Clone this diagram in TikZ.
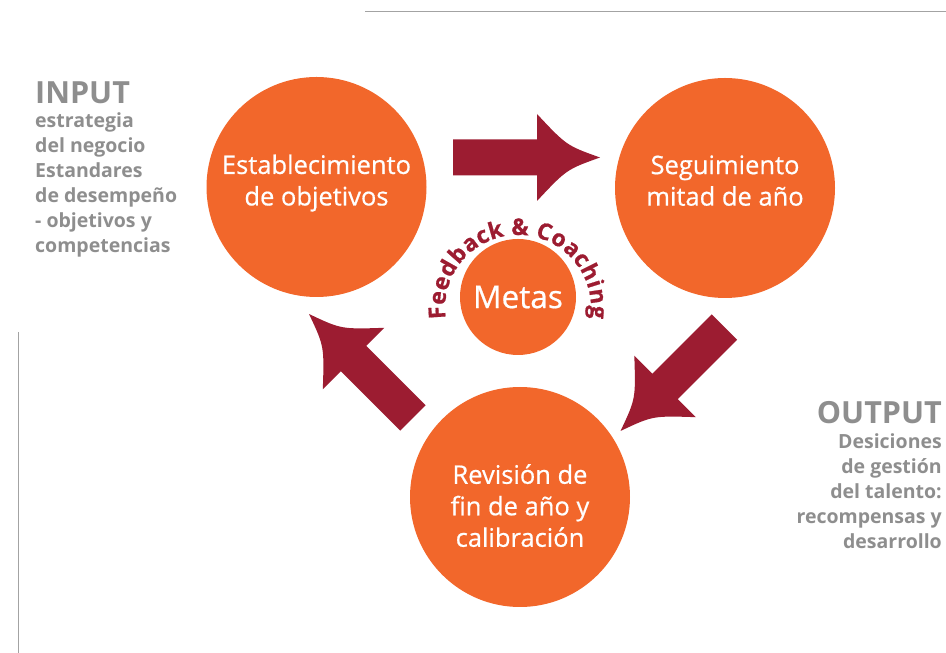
\documentclass[tikz,border=0pt]{standalone}
\usepackage{fontspec}
\setmainfont{Open Sans}
\newfontfamily\stagefont{Open Sans}[FakeBold=0.6]
\newfontfamily\arcfamily{Open Sans}[BoldFeatures={FakeBold=0.8}]
\usetikzlibrary{positioning}
\usetikzlibrary{matrix}

\definecolor{stageorange}{HTML}{F2672B}
\definecolor{arrowred}{HTML}{9C1C31}
\definecolor{notegray}{HTML}{8E8E8E}
\definecolor{rulegray}{HTML}{A3A3A3}

\tikzset{
  stage/.style={circle, fill=stageorange, minimum size=220pt, inner sep=0pt},
  stagetext/.style={text=white, align=center, text depth=6pt, inner sep=0pt,
    font=\stagefont\fontsize{25.5}{31.5}\selectfont},
  arcletter/.style={text=arrowred, inner sep=0pt, anchor=base,
    font=\arcfamily\bfseries\fontsize{23}{23}\selectfont},
  note/.style={text=notegray, inner sep=0pt, font=\bfseries\fontsize{19.5}{25}\selectfont},
  notehead/.style={note, font=\bfseries\fontsize{30.5}{30.5}\selectfont},
  bigarrow/.pic={
    \fill[arrowred] (-73.5,-18) -- (10.5,-18) -- (10.5,-43.5)
      .. controls (40,-12) .. (73.5,0)
      .. controls (40,12) .. (10.5,43.5) -- (10.5,18) -- (-73.5,18) -- cycle;
  }
}

\begin{document}
\begin{tikzpicture}[x=1pt,y=1pt]
\useasboundingbox (0,0) rectangle (946,653);

% the review cycle
\node[stage] (estab) at (316.5,466) {};
\node[stage] (seguim) at (725,465) {};
\node[stage] (revis) at (520,156) {};
\node[stage, minimum size=116pt, text=white, font=\stagefont\fontsize{31.5}{31.5}\selectfont] (metas) at (518,356) {Metas};

\node[stagetext] (estab-txt) at ([yshift=4pt]estab) {Establecimiento\\de objetivos};
\node[stagetext] (seguim-txt) at ([yshift=4.5pt]seguim) {Seguimiento\\mitad de a\~no};
\node[stagetext] (revis-txt) at ([yshift=-11.5pt]revis) {Revisi\'on de\\fin de a\~no y\\calibraci\'on};

\pic at (526.5,495.5) {bigarrow};
\pic[rotate=-135] at (672.5,274) {bigarrow};
\pic[rotate=135] at (361,287) {bigarrow};

% text round the goals, letter by letter
\coordinate (arcmid) at ([yshift=-11pt]metas);
\foreach \ch/\ang [count=\i] in {F/183.34, e/172.74, e/161.93, d/150.49, b/138.41,
    a/126.71, c/116.44, k/106.15, \&/88.57, C/70.91, o/59.22, a/47.61, c/37.33,
    h/26.50, i/17.47, n/8.44, g/-3.15}
  \node[arcletter, rotate=\ang-90] (fb\i) at ([shift={(\ang:73)}]arcmid) {\ch};

% input / output notes
\matrix (inlist) [matrix of nodes, nodes={note, anchor=base west},
  row sep={25pt,between origins}, inner sep=0pt, anchor=north west] at (35,571) {
|[notehead]| INPUT \\[-1pt]
estrategia \\
del negocio \\
Estandares \\
de desempe\~no \\
- objetivos y \\
competencias \\
};

\matrix (outlist) [matrix of nodes, nodes={note, anchor=base east},
  row sep={25pt,between origins}, inner sep=0pt, anchor=north east] at (942,252) {
|[notehead]| OUTPUT \\[0pt]
Desiciones \\
de gesti\'on \\
del talento: \\
recompensas y \\
desarrollo \\
};

% frame rules
\draw[rulegray, line width=1.8pt] (365,641.5) -- (946,641.5);
\draw[rulegray, line width=1.5pt] (18.3,321) -- (18.3,0);
\end{tikzpicture}
\end{document}
